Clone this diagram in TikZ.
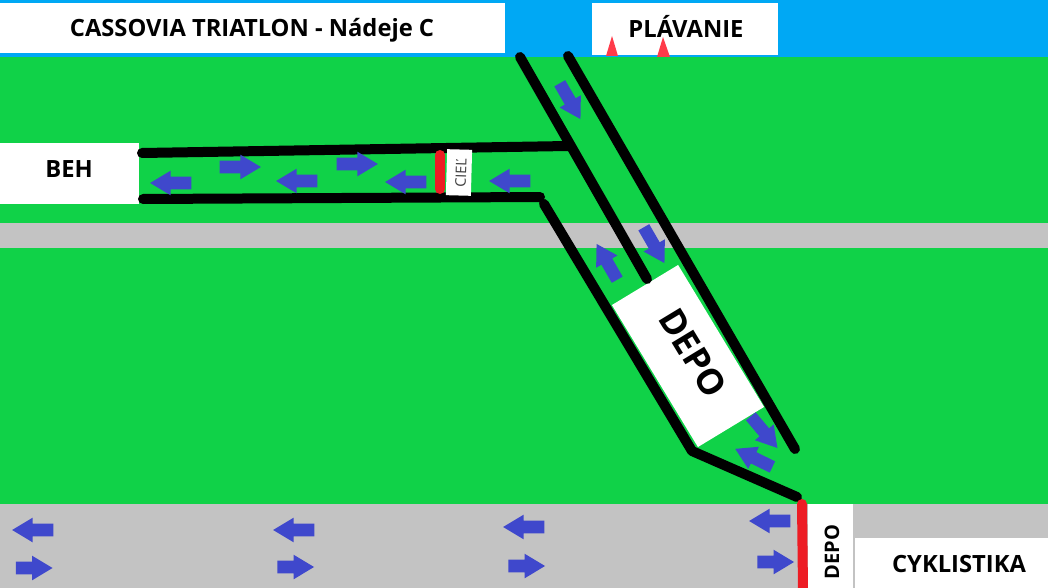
\documentclass[tikz,border=0pt]{standalone}
\usepackage{fontspec}
\setmainfont{Open Sans}
\usetikzlibrary{shapes.arrows}
\definecolor{grass}{HTML}{10D248}
\definecolor{water}{HTML}{00A8F4}
\definecolor{road}{HTML}{C3C3C3}
\definecolor{mark}{HTML}{ED1C24}
\definecolor{tri}{HTML}{FF3B4A}
\definecolor{arrowblue}{HTML}{3F48CC}
\tikzset{
  x=0.75pt,y=-0.75pt,
  band/.style={fill=#1,draw=none},
  sign/.style={fill=white,draw=none,inner sep=0pt,align=center,text=black,font=\fontsize{17.8pt}{20pt}\selectfont\bfseries},
  label/.style={inner sep=0pt,align=center,text=black,font=\fontsize{17.8pt}{20pt}\selectfont\bfseries},
  barrier/.style={draw=black,line width=7.5pt,line cap=round,line join=round},
  redline/.style={draw=mark,line width=7.5pt,line cap=round},
  flow/.style={single arrow,fill=arrowblue,draw=none,minimum height=31pt,text width=0pt,
    text height=4.5pt,text depth=4.5pt,
    single arrow head extend=4.5pt,single arrow head indent=0pt,inner sep=0pt,rotate=#1,
    single arrow tip angle=62,xshift=-3.75pt},
  flow/.default=0,
  shortflow/.style={flow=0,minimum height=27.5pt}
}
\begin{document}
\begin{tikzpicture}
\useasboundingbox (0,0) rectangle (1048,588);
\fill[band=grass] (0,0) rectangle (1048,588);
\fill[band=water] (0,0) rectangle (1048,57);
\fill[band=road] (0,223) rectangle (1048,248);
\fill[band=road] (0,504) rectangle (1048,588);

% signs
\node[sign,minimum width=378.75pt,minimum height=37.5pt] (title) at (252.5,28) {};
\node[label] at (252,30) {CASSOVIA TRIATLON - Nádeje C};
\node[sign,minimum width=139.5pt,minimum height=39pt] (swim) at (685,29) {};
\node[label] at (686,26) {PLÁVANIE};
\node[sign,minimum width=104.25pt,minimum height=45.75pt] (run) at (69.5,173.5) {};
\node[label] at (69,169) {BEH};
\node[sign,minimum width=33.75pt,minimum height=63pt] (depoB) at (830.5,546) {};
\node[label,rotate=90,font=\fontsize{15pt}{16pt}\selectfont\bfseries] at (832,552) {DEPO};
\node[sign,minimum width=144.75pt,minimum height=37.5pt] (bike) at (951.5,563) {};
\node[label] at (959,564) {CYKLISTIKA};
\node[sign,rotate=-58.8,minimum width=124.5pt,minimum height=58pt] (depo) at (688,356) {};
\node[label,rotate=-58.8,font=\fontsize{26.5pt}{30pt}\selectfont\bfseries] at (693,353) {DEPO};

% swim buoys
\fill[tri] (612,36) -- (618,56) -- (606,56) -- cycle;
\fill[tri] (663,37) -- (670,57) -- (657,57) -- cycle;

% barriers
\coordinate (a1) at (142,153); \coordinate (a2) at (568,146);
\coordinate (b1) at (143,199); \coordinate (b2) at (540,197);
\coordinate (c1) at (520,57);  \coordinate (c2) at (647,279);
\coordinate (d1) at (568,56);  \coordinate (d2) at (795,449);
\coordinate (e1) at (544,204); \coordinate (e2) at (692,451); \coordinate (e3) at (797,497);
\coordinate (f1) at (440,155); \coordinate (f2) at (440,189);
\coordinate (g1) at (802,504); \coordinate (g2) at (803,590);
\draw[barrier] (a1) -- (a2);
\draw[barrier] (b1) -- (b2);
\draw[barrier] (c1) -- (c2);
\draw[barrier] (d1) -- (d2);
\draw[barrier] (e1) -- (e2) -- (e3);
\draw[redline] (f1) -- (f2);
\draw[redline] (g1) -- (g2);

% finish sign sits on top of the barriers
\node[sign,rotate=-1.5,minimum width=18.75pt,minimum height=34.5pt] (finish) at (459,172.5) {};
\node[label,rotate=88,font=\fontsize{11pt}{12pt}\selectfont,text=black!75] at (461,173) {CIEĽ};

% flow arrows
\node[flow=-60] (f01) at (570,101) {};
\node[flow=0]   (f02) at (240,167) {};
\node[flow=180] (f03) at (171,183) {};
\node[flow=180] (f04) at (297,181) {};
\node[flow=0]   (f05) at (357,164) {};
\node[flow=180] (f06) at (406,182) {};
\node[flow=180] (f07) at (510,181) {};
\node[flow=-60] (f08) at (654,245) {};
\node[flow=120] (f09) at (607,262) {};
\node[flow=-50] (f10) at (764,432) {};
\node[flow=154] (f11) at (754,458) {};
\node[flow=180] (f12) at (33,530) {};
\node[shortflow] (f13) at (34,568) {};
\node[flow=180] (f14) at (294,530) {};
\node[shortflow] (f15) at (295.5,567) {};
\node[flow=180] (f16) at (524,527) {};
\node[shortflow] (f17) at (526.5,566) {};
\node[flow=180] (f18) at (770,521) {};
\node[shortflow] (f19) at (775.5,562) {};
\end{tikzpicture}
\end{document}
